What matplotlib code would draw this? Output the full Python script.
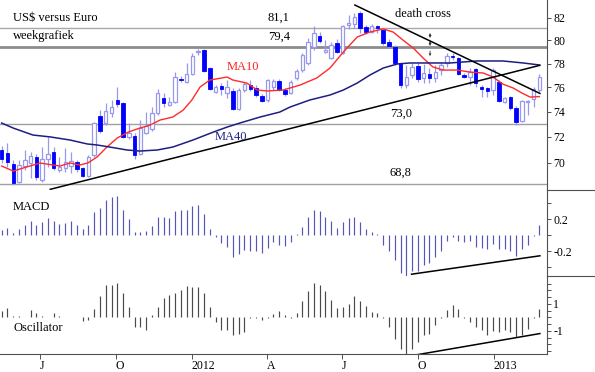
import numpy as np
import pandas as pd
import matplotlib
matplotlib.use("Agg")
import matplotlib.pyplot as plt
from matplotlib.lines import Line2D
from matplotlib.ticker import FixedLocator, FixedFormatter, NullLocator

plt.rcParams['font.family'] = ['Liberation Serif', 'DejaVu Serif']

# ---------------- data ----------------
start_date = '2011-05-16'

opens = [70.98, 70.75, 69.90, 68.54, 69.75, 69.98, 70.44, 68.69, 70.29, 70.83,
         69.45, 69.60, 69.75, 70.06, 69.60, 68.99, 70.59, 73.66, 73.10, 73.90,
         74.96, 74.71, 71.99, 72.07, 70.67, 72.31, 72.62, 73.90, 75.12, 74.55,
         74.79, 76.69, 76.44, 77.11, 78.99, 79.16, 77.62, 75.61, 76.11, 75.53,
         75.70, 74.22, 75.78, 76.19, 75.94, 75.28, 74.96, 76.02, 76.52, 75.78,
         75.53, 76.78, 77.45, 78.04, 79.42, 80.38, 78.99, 78.47, 79.76, 78.90,
         81.35, 81.44, 82.42, 81.17, 80.73, 81.26, 80.91, 79.85, 79.42, 78.05,
         76.19, 77.03, 77.79, 76.78, 77.11, 76.78, 77.45, 78.05, 78.64, 78.47,
         77.03, 76.86, 77.54, 76.02, 75.94, 75.78, 76.44, 74.79, 75.20, 74.30,
         73.26, 74.79, 75.04, 75.78]
highs = [71.29, 71.53, 70.21, 70.21, 70.98, 70.83, 70.67, 71.21, 72.00, 71.21,
         70.44, 71.13, 70.83, 70.21, 69.68, 70.59, 73.18, 74.14, 74.71, 74.96,
         76.02, 74.79, 73.10, 72.31, 73.34, 73.98, 74.39, 75.86, 75.53, 75.20,
         77.28, 76.94, 78.05, 78.90, 79.24, 79.24, 77.71, 76.19, 76.36, 76.61,
         75.94, 75.94, 76.44, 76.61, 76.19, 75.45, 76.69, 76.69, 76.69, 75.94,
         76.61, 77.54, 78.90, 80.20, 81.26, 80.73, 80.03, 79.85, 80.12, 81.35,
         82.24, 82.42, 82.60, 81.35, 81.44, 81.35, 81.00, 80.12, 79.59, 78.13,
         77.88, 78.05, 78.05, 77.96, 77.62, 77.88, 78.13, 78.90, 78.90, 78.56,
         77.20, 77.62, 77.62, 76.19, 76.02, 77.62, 76.61, 75.20, 75.28, 74.47,
         74.96, 74.96, 76.02, 77.11]
lows = [69.98, 69.68, 68.32, 68.47, 69.45, 68.84, 68.69, 68.54, 69.68, 69.45,
        69.30, 69.30, 69.22, 69.30, 68.92, 68.92, 70.44, 72.31, 72.94, 73.58,
        74.39, 71.92, 71.84, 70.29, 70.59, 72.23, 72.46, 73.74, 74.39, 74.47,
        74.71, 76.44, 76.36, 77.03, 78.73, 77.28, 75.78, 75.53, 75.37, 75.12,
        74.14, 74.14, 75.61, 75.70, 75.20, 74.79, 74.79, 75.78, 75.70, 75.28,
        75.45, 76.61, 77.28, 77.88, 79.16, 79.76, 78.90, 78.38, 78.90, 78.82,
        81.00, 81.09, 80.65, 80.56, 80.65, 80.65, 79.59, 79.33, 77.88, 75.94,
        75.94, 76.78, 76.44, 76.36, 76.36, 76.44, 77.03, 77.71, 78.30, 77.03,
        76.78, 76.19, 76.02, 75.20, 75.20, 75.37, 74.79, 74.71, 74.14, 72.94,
        73.18, 73.74, 74.39, 75.61]
closes = [70.29, 70.06, 68.47, 69.83, 70.21, 70.52, 68.92, 70.29, 70.67, 69.60,
          69.68, 70.06, 70.13, 69.53, 68.99, 70.44, 73.10, 72.46, 74.06, 74.39,
          74.63, 71.99, 72.31, 70.59, 72.70, 72.86, 73.90, 75.53, 74.71, 74.79,
          76.86, 76.61, 77.11, 78.64, 79.07, 77.37, 75.86, 76.02, 75.86, 76.02,
          74.22, 75.78, 76.27, 75.86, 75.37, 74.88, 76.61, 76.52, 75.78, 75.45,
          76.44, 77.37, 78.73, 79.85, 80.65, 79.94, 79.16, 79.59, 78.99, 81.26,
          81.53, 82.06, 81.09, 80.73, 81.26, 81.09, 79.76, 79.50, 78.05, 76.19,
          76.86, 77.71, 76.69, 77.20, 76.78, 77.28, 77.88, 78.64, 78.56, 77.11,
          76.86, 77.28, 76.36, 75.86, 75.70, 77.45, 74.88, 75.12, 74.30, 73.18,
          74.88, 74.88, 75.86, 76.86]

ma10_weeks = [0, 2.0, 6.6, 10.1, 11.8, 13.5, 14.9, 16.5, 18.2, 20.0,
              21.9, 23.9, 25.7, 27.4, 29.6, 31.4, 32.9, 34.3, 36.0, 39.0,
              40.0, 42.4, 44.2, 45.9, 48.7, 51.6, 54.5, 56.8, 59.1, 61.5,
              63.7, 66.0, 67.7, 69.4, 71.2, 72.9, 74.6, 76.4, 78.8, 81.0,
              83.3, 85.0, 86.7, 88.5, 90.0, 91.4, 93.0]
ma10_values = [69.75, 69.37, 69.98, 69.75, 69.98, 69.83, 69.98, 70.44, 71.21, 71.92,
               72.38, 72.70, 72.94, 73.34, 73.58, 74.14, 74.96, 76.02, 76.61, 76.86,
               76.61, 76.36, 75.78, 75.70, 75.78, 76.19, 76.78, 77.62, 78.99, 80.29,
               80.73, 81.00, 80.73, 80.03, 79.33, 78.47, 77.71, 77.45, 77.45, 77.28,
               77.20, 76.86, 76.27, 75.94, 75.53, 75.20, 75.24]
ma40_weeks = [0, 2.0, 5.4, 8.4, 11.8, 14.8, 16.5, 18.7, 21.7, 23.9,
              26.9, 29.6, 33.1, 36.6, 39.0, 41.2, 44.7, 48.1, 49.9, 53.3,
              56.8, 59.1, 61.5, 63.7, 66.0, 68.4, 70.6, 74.1, 77.6, 82.2,
              86.7, 90.2, 93.0]
ma40_values = [73.10, 72.70, 72.15, 72.00, 71.76, 71.45, 71.37, 71.21, 70.98, 70.90,
               70.98, 71.21, 71.76, 72.38, 72.78, 73.10, 73.58, 73.98, 74.39, 74.96,
               75.37, 75.78, 76.36, 77.03, 77.62, 77.96, 78.05, 78.05, 78.05, 78.22,
               78.22, 78.05, 77.88]

macd = [0.06, 0.09, 0.02, 0.07, 0.12, 0.175, 0.12, 0.16, 0.21, 0.17,
        0.14, 0.15, 0.17, 0.12, 0.07, 0.125, 0.29, 0.34, 0.44, 0.47,
        0.49, 0.31, 0.20, 0.035, 0.04, 0.05, 0.11, 0.23, 0.23, 0.21,
        0.30, 0.31, 0.31, 0.36, 0.38, 0.26, 0.08, -0.02, -0.10, -0.15,
        -0.27, -0.24, -0.19, -0.20, -0.20, -0.23, -0.16, -0.09, -0.12, -0.14,
        -0.09, 0.01, 0.10, 0.22, 0.31, 0.30, 0.22, 0.175, 0.09, 0.16,
        0.21, 0.23, 0.16, 0.075, 0.04, 0.01, -0.12, -0.20, -0.31, -0.48,
        -0.51, -0.45, -0.45, -0.38, -0.35, -0.27, -0.20, -0.08, -0.02, -0.07,
        -0.09, -0.08, -0.15, -0.16, -0.18, -0.11, -0.175, -0.175, -0.20, -0.26,
        -0.17, -0.12, -0.01, 0.125]
oscillator = [0.47, 0.72, 0.10, 0.10, 0.05, 0.54, 0.30, 0.10, 0.05, 0.30,
              0.12, 0.02, 0.02, 0.02, -0.27, -0.20, 0.62, 1.58, 2.44, 2.44,
              2.59, 1.78, 0.79, -0.69, -0.69, -0.94, 0.17, 0.79, 1.41, 1.65,
              1.83, 2.07, 2.35, 2.27, 2.27, 1.85, 0.77, -0.32, -0.94, -0.89,
              -1.31, -1.23, -1.06, -0.07, -0.02, -0.20, -0.02, 0.26, 0.47, 0.17,
              -0.02, 0.37, 1.21, 1.95, 2.52, 2.44, 1.95, 1.33, 0.67, 0.79,
              0.99, 1.60, 1.21, 0.86, 0.42, 0.37, -0.07, -0.69, -1.56, -2.30,
              -2.67, -2.37, -1.80, -1.26, -1.19, -0.57, -0.07, 0.54, 0.96, 0.62,
              -0.02, -0.32, -0.69, -0.94, -1.31, -1.01, -1.06, -0.89, -1.11, -1.43,
              -1.31, -0.86, -0.02, 0.62]

level_values = [81.1, 79.4, 73.0, 68.4]
level_labels = ['81,1', '79,4', '73,0', '68,8']

uptrend_weeks = [8.4, 93.1]
uptrend_prices = [68.0, 77.85]
downtrend_weeks = [61.1, 93.1]
downtrend_prices = [83.14, 75.5]
macd_trend_weeks = [70.9, 93.1]
macd_trend_values = [-0.49, -0.26]
osc_trend_weeks = [72.1, 93.1]
osc_trend_values = [-2.74, -1.19]

quarter_dates = ['2011-07-01', '2011-10-01', '2012-01-01', '2012-04-01',
                 '2012-07-01', '2012-10-01', '2013-01-01']
quarter_labels = ['J', 'O', '2012', 'A', 'J', 'O', '2013']

price_ticks = [70, 72, 74, 76, 78, 80, 82]
macd_ticks = [-0.4, -0.2, 0.0, 0.2, 0.4]
macd_tick_labels = ['', '-0.2', '', '0.2', '']
osc_ticks = [-2.5, -2, -1.5, -1, -0.5, 0, 0.5, 1, 1.5, 2, 2.5]
osc_tick_labels = ['', '', '', '-1', '', '', '', '1', '', '', '']

# ---------------- derived x ----------------
dates = pd.date_range(start_date, periods=len(closes), freq='7D')
x = np.asarray((dates - dates[0]).days / 7.0, dtype=float)
qpos = np.asarray((pd.to_datetime(quarter_dates) - dates[0]).days / 7.0, dtype=float)

o = np.array(opens); h = np.array(highs); l = np.array(lows); c = np.array(closes)
up = c >= o

# ---------------- layout ----------------
W, H = 595, 372
fig = plt.figure(figsize=(W / 100, H / 100), dpi=100)
fig.patch.set_facecolor('white')

def fy(py):
    return 1 - py / H

RX = 547 / W
axp = fig.add_axes([0, fy(190), RX, 190 / H])
axm = fig.add_axes([0, fy(276), RX, 86 / H], sharex=axp)
axo = fig.add_axes([0, fy(354), RX, 78 / H], sharex=axp)

axis_col = '#505050'
for ax in (axp, axm, axo):
    ax.set_facecolor('none')
    for s in ('top', 'left'):
        ax.spines[s].set_visible(False)
    ax.spines['right'].set_color(axis_col)
    ax.spines['right'].set_linewidth(0.8)
    ax.spines['bottom'].set_color(axis_col)
    ax.spines['bottom'].set_linewidth(0.8)
    ax.yaxis.tick_right()
    ax.tick_params(axis='y', direction='out', length=3, width=0.7, colors=axis_col,
                   labelcolor='black', labelsize=8.5, pad=1.5)
    ax.tick_params(axis='x', bottom=False, labelbottom=False)
axp.spines['bottom'].set_visible(False)
axm.spines['bottom'].set_visible(False)

axp.set_xlim(-0.29, 94.33)

# ---------------- price panel ----------------
axp.set_yscale('log')
axp.set_ylim(67.95, 83.60)
axp.yaxis.set_major_locator(FixedLocator(price_ticks))
axp.yaxis.set_major_formatter(FixedFormatter([str(t) for t in price_ticks]))
axp.yaxis.set_minor_locator(NullLocator())

for val, lw, col in zip(level_values, [1.0, 2.0, 1.0, 1.0],
                        ['#a8a8a8', '#8c8c8c', '#a0a0a0', '#a0a0a0']):
    axp.axhline(val, color=col, lw=lw, zorder=1)

wick_col = '#9898ec'
axp.vlines(x, l, h, color=wick_col, lw=0.9, zorder=2)
body_lo = np.minimum(o, c)
body_h = np.maximum(np.abs(c - o), 0.03)
axp.bar(x[up], body_h[up], bottom=body_lo[up], width=0.6, facecolor='white',
        edgecolor=wick_col, linewidth=0.9, zorder=3)
axp.bar(x[~up], body_h[~up], bottom=body_lo[~up], width=0.6, facecolor='#0000ff',
        edgecolor='#0000ff', linewidth=0.6, zorder=3)

axp.plot(ma10_weeks, ma10_values, color='#ff2a2a', lw=1.0, zorder=4)
axp.plot(ma40_weeks, ma40_values, color='#1e1e82', lw=1.1, zorder=4)
axp.plot(uptrend_weeks, uptrend_prices, color='black', lw=1.1, zorder=5)
axp.plot(downtrend_weeks, downtrend_prices, color='black', lw=1.1, zorder=5)

# death cross arrows
for ytop, ybot, style in [(80.64, 80.21, '<->'), (79.94, 79.51, '<->'), (79.07, 78.64, '->')]:
    axp.annotate('', xy=(74.1, ybot), xytext=(74.1, ytop),
                 arrowprops=dict(arrowstyle=style, lw=0.6, color='#303030',
                                 mutation_scale=3, shrinkA=0, shrinkB=0))

# ---------------- MACD panel ----------------
axm.set_ylim(-0.5125, 0.5625)
axm.vlines(x, 0, macd, color='#5656b8', lw=0.85)
axm.plot(macd_trend_weeks, macd_trend_values, color='black', lw=1.1)
axm.yaxis.set_major_locator(FixedLocator(macd_ticks))
axm.yaxis.set_major_formatter(FixedFormatter(macd_tick_labels))

# ---------------- Oscillator panel ----------------
axo.set_ylim(-2.704, 3.074)
axo.vlines(x, 0, oscillator, color='#4a4a4a', lw=0.85)
axo.plot(osc_trend_weeks, osc_trend_values, color='black', lw=1.1)
axo.yaxis.set_major_locator(FixedLocator(osc_ticks))
axo.yaxis.set_major_formatter(FixedFormatter(osc_tick_labels))

axo.tick_params(axis='x', bottom=True, labelbottom=True, direction='out', length=3.5,
                width=0.7, colors=axis_col, labelcolor='black', labelsize=8.5, pad=1)
axo.set_xticks(qpos)
axo.set_xticklabels(quarter_labels)
for lbl in axo.get_xticklabels():
    lbl.set_horizontalalignment('left')

# ---------------- separators in the right margin ----------------
for py in (190, 276):
    fig.add_artist(Line2D([RX, 1.0], [fy(py), fy(py)], color=axis_col, lw=0.8))

# ---------------- texts ----------------
def ftext(px, py, s, **kw):
    fig.text(px / W, fy(py), s, ha='left', va='baseline', fontsize=9, **kw)

ftext(13, 21, 'US$ versus Euro')
ftext(13, 39, 'weekgrafiek')
ftext(268, 21, level_labels[0])
ftext(268, 40, level_labels[1])
ftext(390, 117, level_labels[2])
ftext(390, 176, level_labels[3])
ftext(227, 70, 'MA10', color='#ff2020')
ftext(215, 140, 'MA40', color='#1e1e82')
ftext(395, 17, 'death cross')
ftext(13, 210, 'MACD')
ftext(13, 331, 'Oscillator')

fig.savefig('out.png', dpi=100, facecolor='white')
